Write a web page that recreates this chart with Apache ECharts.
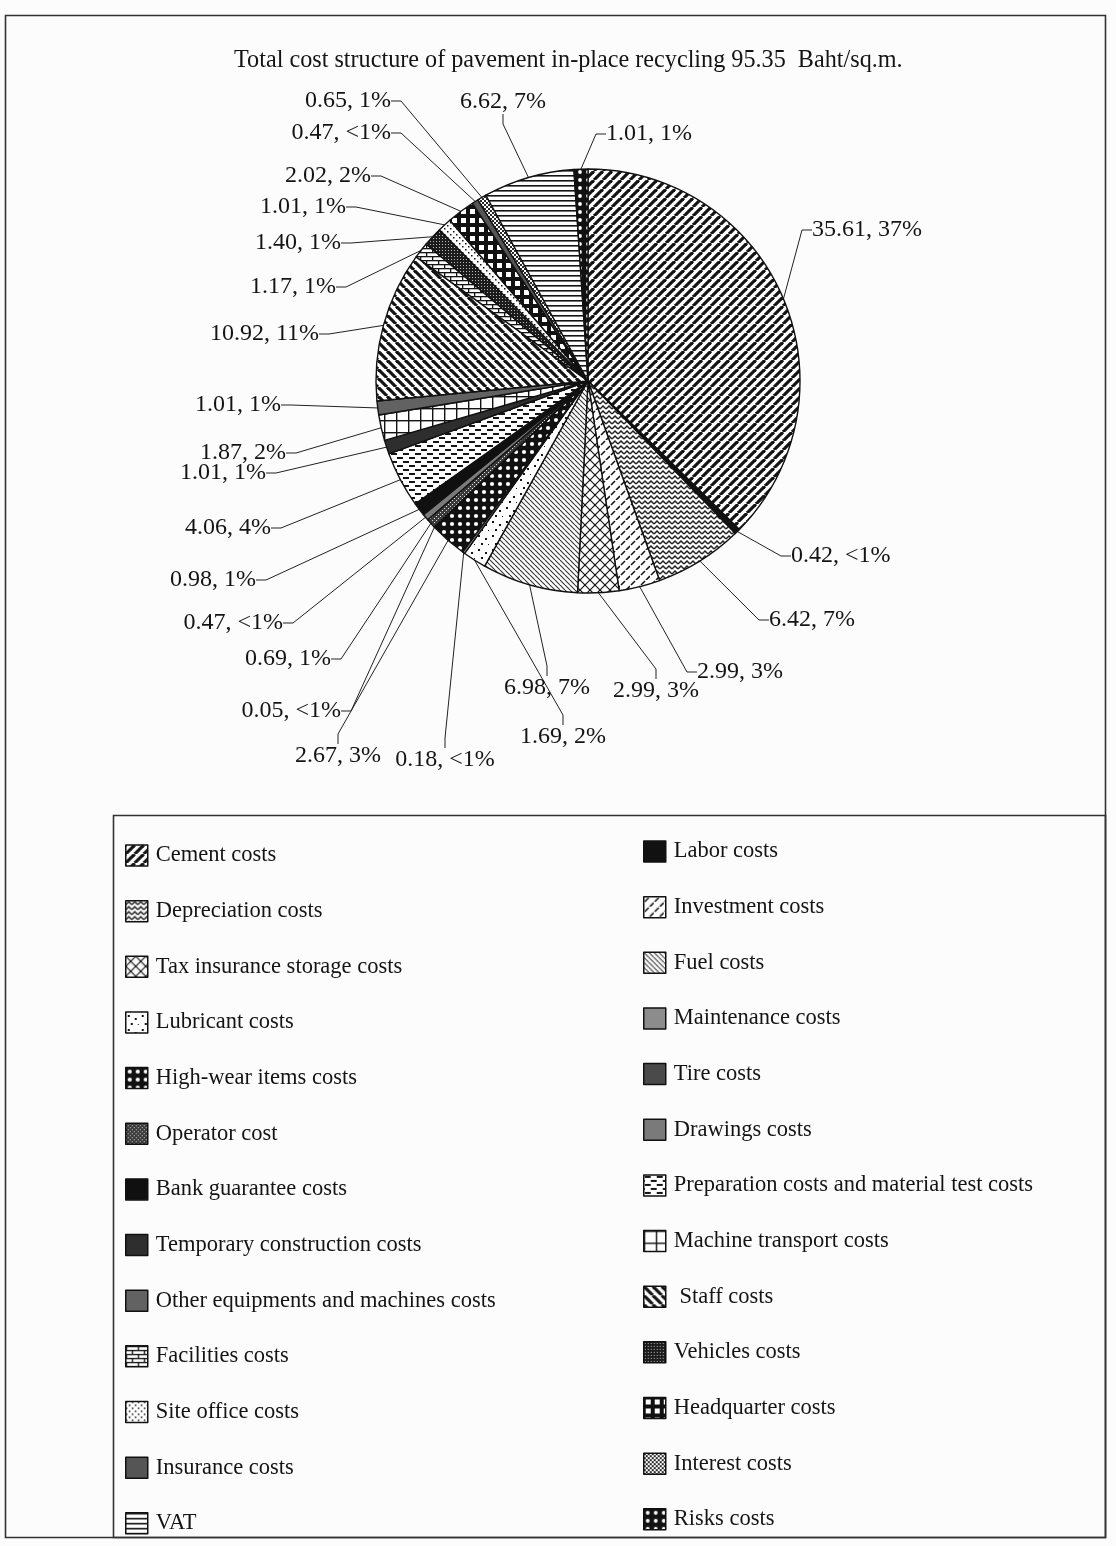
<!DOCTYPE html>
<html>
<head>
<meta charset="utf-8">
<script src="https://cdn.jsdelivr.net/npm/echarts@6/dist/echarts.min.js"></script>
<style>
  html, body { margin: 0; padding: 0; background: #fcfcfc; }
  #chart { width: 1116px; height: 1546px; }
</style>
</head>
<body>
<div id="chart"></div>
<script>
// Cost items (Baht per sq.m.), in slice order clockwise from 12 o'clock
const costNames = [
  'Cement costs', 'Labor costs', 'Depreciation costs', 'Investment costs',
  'Tax insurance storage costs', 'Fuel costs', 'Lubricant costs', 'Maintenance costs',
  'High-wear items costs', 'Tire costs', 'Operator cost', 'Drawings costs',
  'Bank guarantee costs', 'Preparation costs and material test costs',
  'Temporary construction costs', 'Machine transport costs',
  'Other equipments and machines costs', 'Staff costs', 'Facilities costs',
  'Vehicles costs', 'Site office costs', 'Headquarter costs', 'Insurance costs',
  'Interest costs', 'VAT', 'Risks costs'
];
const costValues = [
  35.61, 0.42, 6.42, 2.99, 2.99, 6.98, 1.69, 0.18, 2.67, 0.05, 0.69, 0.47, 0.98,
  4.06, 1.01, 1.87, 1.01, 10.92, 1.17, 1.40, 1.01, 2.02, 0.47, 0.65, 6.62, 1.01
];
const titleText = 'Total cost structure of pavement in-place recycling 95.35  Baht/sq.m.';

// ---------- fill patterns (black ink hatching) ----------
const INK = '#141414';
function tile(w, h, bg, draw) {
  const c = document.createElement('canvas');
  c.width = w; c.height = h;
  const g = c.getContext('2d');
  g.fillStyle = bg; g.fillRect(0, 0, w, h);
  g.fillStyle = INK; g.strokeStyle = INK;
  draw(g, w, h);
  return { image: c, repeat: 'repeat' };
}
function diagUp(s, lw, col) {
  return tile(s, s, '#fff', g => {
    g.strokeStyle = col || INK; g.lineWidth = lw;
    for (const k of [-s, 0, s]) { g.beginPath(); g.moveTo(k, s); g.lineTo(k + s, 0); g.stroke(); }
  });
}
function diagDown(s, lw, col) {
  return tile(s, s, '#fff', g => {
    g.strokeStyle = col || INK; g.lineWidth = lw;
    for (const k of [-s, 0, s]) { g.beginPath(); g.moveTo(k, 0); g.lineTo(k + s, s); g.stroke(); }
  });
}
function solid(c) { return c; }

const fills = {
  'Cement costs': diagUp(9, 3.2),
  'Labor costs': solid('#111'),
  'Depreciation costs': tile(6, 5, '#fff', g => {
    g.lineWidth = 1.5; g.strokeStyle = '#222';
    g.beginPath(); g.moveTo(0, 4); g.lineTo(3, 1); g.lineTo(6, 4); g.stroke();
  }),
  'Investment costs': tile(10, 10, '#fff', g => {
    g.lineWidth = 1.6;
    g.beginPath(); g.moveTo(1, 5); g.lineTo(5, 1); g.stroke();
    g.beginPath(); g.moveTo(6, 10); g.lineTo(10, 6); g.stroke();
  }),
  'Tax insurance storage costs': tile(10, 10, '#fff', g => {
    g.lineWidth = 1.2;
    for (const k of [-10, 0, 10]) {
      g.beginPath(); g.moveTo(k, 10); g.lineTo(k + 10, 0); g.stroke();
      g.beginPath(); g.moveTo(k, 0); g.lineTo(k + 10, 10); g.stroke();
    }
  }),
  'Fuel costs': diagDown(5, 1.1, '#333'),
  'Lubricant costs': tile(14, 14, '#fff', g => {
    g.fillRect(2, 3, 2, 2); g.fillRect(9, 6, 2, 2); g.fillRect(5, 11, 2, 2); g.fillRect(12, 12, 1, 1);
  }),
  'Maintenance costs': solid('#8c8c8c'),
  'High-wear items costs': tile(8, 8, '#111', g => {
    g.fillStyle = '#fff'; g.beginPath(); g.arc(4, 4, 2.1, 0, Math.PI * 2); g.fill();
  }),
  'Tire costs': solid('#4a4a4a'),
  'Operator cost': tile(4, 4, '#3a3a3a', g => {
    g.fillStyle = '#ddd'; g.fillRect(0, 0, 1, 1); g.fillRect(2, 2, 1, 1);
  }),
  'Drawings costs': solid('#7a7a7a'),
  'Bank guarantee costs': solid('#101010'),
  'Preparation costs and material test costs': tile(12, 8, '#fff', g => {
    g.fillRect(1, 1, 6, 2); g.fillRect(7, 5, 5, 2); g.fillRect(0, 5, 1, 2);
  }),
  'Temporary construction costs': solid('#2e2e2e'),
  'Machine transport costs': tile(12, 12, '#fff', g => {
    g.fillRect(0, 0, 12, 1.4); g.fillRect(0, 0, 1.4, 12);
  }),
  'Other equipments and machines costs': solid('#626262'),
  'Staff costs': diagDown(9, 3.2),
  'Facilities costs': tile(12, 8, '#fff', g => {
    g.fillRect(0, 0, 12, 1.3); g.fillRect(0, 4, 12, 1.3);
    g.fillRect(0, 0, 1.3, 4); g.fillRect(6, 4, 1.3, 4);
  }),
  'Vehicles costs': tile(3, 3, '#1c1c1c', g => {
    g.fillStyle = '#bbb'; g.fillRect(1, 1, 1, 1);
  }),
  'Site office costs': tile(6, 6, '#fff', g => {
    g.fillRect(0, 0, 1.5, 1.5); g.fillRect(3, 3, 1.5, 1.5);
  }),
  'Headquarter costs': tile(9, 9, '#111', g => {
    g.fillStyle = '#fff'; g.fillRect(2, 2, 5, 5);
  }),
  'Insurance costs': solid('#555'),
  'Interest costs': tile(4, 4, '#fff', g => {
    g.fillStyle = '#2a2a2a'; g.fillRect(0, 0, 2, 2); g.fillRect(2, 2, 2, 2);
  }),
  'VAT': tile(5, 5, '#fff', g => { g.fillRect(0, 0, 5, 1.6); }),
  'Risks costs': tile(8, 8, '#111', g => {
    g.fillStyle = '#fff'; g.beginPath(); g.arc(4, 4, 1.9, 0, Math.PI * 2); g.fill();
  })
};

// ---------- label placement around the pie: [x, y, align] ----------
const labelSpots = [
  [812, 230, 'left'], [791, 556, 'left'], [769, 620, 'left'], [697, 672, 'left'],
  [656, 691, 'center'], [547, 688, 'center'], [520, 737, 'left'], [445, 760, 'center'],
  [381, 756, 'right'], [341, 711, 'right'], [331, 659, 'right'], [283, 623, 'right'],
  [256, 580, 'right'], [271, 528, 'right'], [266, 473, 'right'], [286, 453, 'right'],
  [281, 405, 'right'], [319, 334, 'right'], [336, 287, 'right'], [341, 243, 'right'],
  [346, 207, 'right'], [371, 176, 'right'], [391, 133, 'right'], [391, 101, 'right'],
  [503, 102, 'center'], [606, 134, 'left']
];

const SERIF = '"Liberation Serif", "Times New Roman", serif';
const pieData = costNames.map((n, i) => ({
  name: n,
  value: costValues[i],
  itemStyle: { color: fills[n] }
}));

const leftNames = costNames.filter((_, i) => i % 2 === 0);
const rightNames = costNames.filter((_, i) => i % 2 === 1);

const legendBase = {
  orient: 'vertical',
  selectedMode: false,
  icon: 'rect',
  height: 700,
  itemWidth: 22,
  itemHeight: 21,
  itemGap: 32.65,
  itemStyle: { borderColor: '#111', borderWidth: 1.5 },
  textStyle: { fontFamily: SERIF, fontSize: 22.5, color: '#141414', padding: [0, 0, 0, 3] },
  formatter: n => (n === 'Staff costs' ? ' ' + n : n)
};

const chart = echarts.init(document.getElementById('chart'), null, { renderer: 'canvas' });
chart.setOption({
  backgroundColor: '#fcfcfc',
  animation: false,
  title: {
    text: titleText,
    left: 229,
    top: 44,
    textStyle: { fontFamily: SERIF, fontSize: 24.2, fontWeight: 'normal', color: '#141414' }
  },
  legend: [
    Object.assign({}, legendBase, { left: 120, top: 839, data: leftNames }),
    Object.assign({}, legendBase, { left: 638, top: 835, data: rightNames })
  ],
  graphic: [
    { type: 'rect', silent: true, shape: { x: 5.5, y: 15.5, width: 1100, height: 1522 },
      style: { fill: null, stroke: '#333', lineWidth: 1.6 } },
    { type: 'rect', silent: true, shape: { x: 113.5, y: 815.5, width: 992, height: 722 },
      style: { fill: null, stroke: '#333', lineWidth: 1.6 } }
  ],
  series: [{
    type: 'pie',
    center: [588, 381],
    radius: 212,
    startAngle: 90,
    clockwise: true,
    avoidLabelOverlap: false,
    data: pieData,
    itemStyle: { borderColor: '#111', borderWidth: 1.4 },
    label: {
      show: true,
      position: 'outside',
      fontFamily: SERIF,
      fontSize: 24,
      color: '#141414',
      formatter: p => {
        const pc = Math.round(p.percent);
        return p.value.toFixed(2) + ', ' + (pc < 1 ? '<1%' : pc + '%');
      }
    },
    labelLine: { show: true, length: 12, length2: 10, smooth: false,
      lineStyle: { color: '#222', width: 1 } },
    labelLayout: p => {
      const s = labelSpots[p.dataIndex];
      return { x: s[0], y: s[1], align: s[2], verticalAlign: 'middle', hideOverlap: false };
    },
    emphasis: { disabled: true }
  }]
});
</script>
</body>
</html>
